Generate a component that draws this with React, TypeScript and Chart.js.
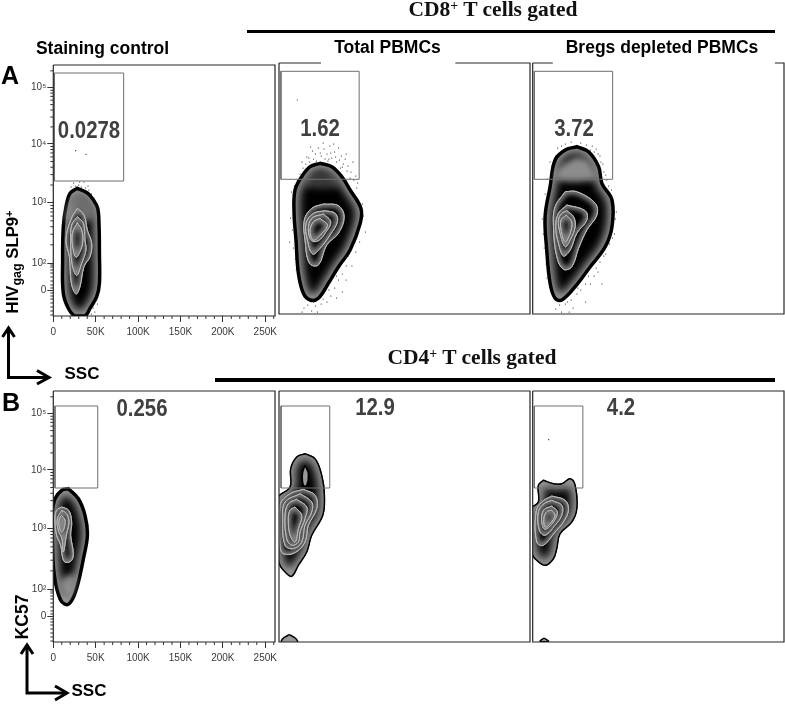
import React, { useEffect, useRef } from "react";
import { Chart, registerables } from "chart.js";

Chart.register(...registerables);

type Pt = [number, number];

// X is side scatter in thousands, Y is the biexponential display channel (0-251).
const xTicks = [0, 50, 100, 150, 200, 250];
const xMinorTicks = [10, 20, 30, 40, 60, 70, 80, 90, 110, 120, 130, 140, 160, 170, 180, 190, 210, 220, 230, 240, 260];
const yTicks = [25.5, 53, 113.3, 172.2, 228.3];
const yTickLabels = ["0", "10²", "10³", "10⁴", "10⁵"];
const yDecades = [53, 113.3, 172.2, 228.3];
const yLinearMinor = [1, 5, 9, 13, 17, 20, 23, 28, 31, 35, 39, 43, 46, 49, 51];

const a1Contours: Pt[][] = [
  [[28.4,127.7],[40.2,123],[47.3,116],[52.4,107.7],[54,89.3],[54.4,62.7],[54.4,32.7],[51.2,19.3],[43.3,7.7],[37.4,0],[25.6,0],[17.7,7.7],[11.8,22.7],[11,56],[11.8,89.3],[15,109.3],[19.7,122.7]],
  [[28.4,107.7],[36.2,101],[40.2,86],[45.3,72.7],[43.3,59.3],[36.2,49.3],[31.5,29.3],[26.8,22],[21.3,32.7],[18.9,59.3],[15,76],[20.5,96]],
  [[28.4,99.3],[35.5,92.7],[37.4,76],[38.6,66],[33.5,52.7],[27.6,40.7],[22,52.7],[20.5,76],[21.7,91]],
  [[28.4,93.3],[33.5,86],[34.7,74.3],[31.5,64.3],[26.8,58.7],[23.2,67.7],[22.5,82.7]],
];
const a2Contours: Pt[][] = [
  [[42.8,150.7],[55,147.3],[65.4,137.3],[74.1,124],[85.3,105.7],[84.6,90.7],[74.1,64],[62,47.3],[51.5,30.7],[41,15.7],[32.4,14],[25.4,20.7],[20.2,40.7],[17.7,74],[15.7,100.7],[16.7,124],[23.7,137.3],[32.4,147.3]],
  [[46.3,110],[61.9,108.3],[67.9,97.3],[61.9,80.7],[49.7,69],[41,49],[31.7,50.7],[27.1,74],[26.4,94],[34.1,105.7]],
  [[48,103.3],[58.5,100.7],[60.9,92.3],[53.2,79],[42.8,65.7],[35.1,60],[29.6,74],[28.2,90.7],[35.9,100.7]],
  [[46.3,100],[53.9,92.3],[48,80.7],[41,73.3],[34.1,73.3],[30.6,84],[34.1,95.7]],
  [[42.8,95.7],[50.4,88.7],[42.8,78.7],[35.9,74],[32.4,83.3],[35.9,92.3]],
];
const a3Contours: Pt[][] = [
  [[45.9,167.3],[58.1,162.3],[68.6,147.3],[72,130.7],[82.5,114],[82.5,87.3],[75.5,67.3],[59.9,47.3],[44.2,27.3],[30.3,14],[23.3,15.7],[18.1,30.7],[14.6,64],[12.9,97.3],[18.1,127.3],[23.3,154],[33.8,164]],
  [[33.8,122.3],[45.9,122.3],[65,110.7],[66.8,99],[56.4,84],[47.7,65.7],[40.7,47.3],[32,44.7],[25,57.3],[21.6,87.3],[23.3,107.3]],
  [[35.5,109],[54.6,103.3],[56.4,94],[45.9,80.7],[39,64],[32,58],[26.8,70.7],[24,87.3],[26.8,100.7]],
  [[35.5,103.3],[42.5,97.3],[44.2,87.3],[39,74],[33.8,67.3],[28.5,80.7],[26.8,94],[30.3,100.7]],
  [[34.8,99],[40.7,92.3],[39,80.7],[33.8,72.3],[29.6,84],[29.6,94]],
];
const b1Contours: Pt[][] = [
  [[17.7,153.3],[29.6,143.3],[37.4,126.7],[40.2,106.7],[35.5,83.3],[29.6,60],[22.9,43.3],[15.8,37.3],[7.9,43.3],[1.2,66.7],[-1,100],[-1,130],[2,143.3],[9.9,151.7]],
  [[9.9,135],[18.1,131.7],[21.7,120],[20.5,106.7],[23.6,88.3],[20.5,80.7],[12.6,80.7],[8.7,96.7],[3.9,106.7],[2,123],[3.9,131.7]],
  [[9.9,131.7],[15.8,128.3],[18.5,120],[15.8,108.3],[11.8,90],[10.2,103],[5.9,111.7],[4.7,123]],
  [[9.9,126.7],[13.8,121.7],[12.6,113.3],[9.9,110],[7.1,115],[7.1,123.3]],
];
const b2Contours: Pt[][] = [
  [[27.1,188.3],[37.6,183.3],[44.5,166.7],[47.3,146.7],[45.6,126.7],[34.1,106.7],[28.9,90],[20.2,76.7],[13.2,65.7],[6.3,70],[1,76.7],[-1.7,90],[-1.7,143.3],[11.5,155],[12.2,173.3],[18.4,185]],
  [[25.4,152.7],[37.6,146.7],[39.3,133.3],[30.6,116.7],[27.1,100],[16.7,89.3],[4.5,88.3],[1,96.7],[1,136.7],[11.5,148.3]],
  [[22,148.3],[34.1,140],[34.1,130],[27.1,116.7],[23.7,100],[15,93.3],[6.3,96.7],[3.8,123.3],[6.3,140]],
  [[18.4,142.7],[28.9,135],[27.1,123.3],[22,110],[20.2,100],[13.2,96.7],[8,103.3],[6.3,126.7],[9.7,138.3]],
  [[16.7,135],[23.7,126.7],[20.2,113.3],[16.7,100],[11.5,106.7],[9.7,123.3],[11.5,131.7]],
];
const b3Contours: Pt[][] = [
  [[11.1,161.7],[21.6,158.3],[30.3,158.3],[39,163.3],[44.2,156.7],[45.9,133.3],[40.7,120],[28.5,108.3],[25,93.3],[21.6,83.3],[12.9,76.7],[2.4,83.3],[-1,90],[-1,133.3],[5.9,140],[5.9,156.7]],
  [[19.8,146],[33.8,141.7],[37.2,131.7],[32,120],[23.3,110],[11.1,96.7],[4.2,100],[3.5,130],[9.4,140]],
  [[19.8,141.7],[30.3,136.7],[30.3,126.7],[23.3,116.7],[12.9,106.7],[6.9,111.7],[5.9,130],[11.8,138.3]],
  [[19.8,136],[25.7,130],[21.6,120],[12.9,112.7],[9.4,120],[11.1,131.7]],
  [[19.8,131.7],[23.3,126.7],[18.1,118.3],[12.9,115],[11.8,125],[15.3,130.7]],
];

const a1Cap: Pt[] = [[28,122],[40,116],[47,105],[45,96],[15,96],[19,112]];
const a2Cap: Pt[] = [[42.8,142],[56.7,139],[63.8,127],[25.4,127],[28.9,137]];
const a3Cap: Pt[] = [[45.2,157.3],[56.4,154],[65,140.7],[65,134],[25,134],[28.5,147.3]];
const b1Cap: Pt[] = [[15.8,66.7],[25.6,66.7],[21.7,48],[13.8,46.7],[7.9,60]];

const b2Spots: Pt[][] = [
  [[27.1,176.7],[30.6,168.3],[28.9,156.7],[25.4,156.7],[24.4,168.3]],
  [[10.8,7.3],[17.7,3.3],[19.1,-0.7],[2.8,-0.7],[3.8,3.3]],
];
const b3Spots: Pt[][] = [[[11.8,4],[16.4,0.7],[7.7,0.7]]];

const a1Events: Pt[] = [[26.4,165.3],[38.6,161.7],[24,133],[26,130],[30,131],[33,129],[36,134],[38,128],[42,126],[45,122],[48,118],[50,112],[47,8],[49,4],[45,2],[52,12],[27,127],[31,134],[41,130],[21,129]];
const a2Events: Pt[] = [[19.1,214],[31,156],[35,163],[38,160],[41,166],[44,158],[47,165],[50,160],[53,168],[55,156],[58,162],[60,152],[62,166],[65,158],[67,150],[70,160],[72,148],[75,142],[77,152],[80,138],[28,150],[33,167],[46,171],[52,155],[57,170],[64,146],[69,155],[25,146],[74,136],[22,140],[82,131],[13,122],[15,110],[12,96],[14,84],[11,72],[15,66],[17,55],[18,44],[88,98],[90,82],[84,72],[80,62],[72,58],[76,48],[66,40],[70,34],[62,34],[58,26],[66,22],[54,18],[60,16],[50,12],[44,10],[38,8],[30,9],[26,6],[34,3],[24,2],[40,2],[36,155],[39,153],[43,161],[48,155],[51,153],[54,161],[59,157],[63,154],[66,147],[71,143],[78,134],[81,126],[29,157],[32,152],[24,152],[19,134],[16,128],[87,110],[79,72],[70,48],[60,38],[52,24],[46,15],[36,12]];
const a3Events: Pt[] = [[30,168],[34,170],[40,172],[50,171],[56,169],[62,168],[66,165],[70,158],[73,150],[74,142],[68,160],[28,160],[24,158],[20,148],[77,134],[79,128],[82,124],[84,110],[86,95],[85,80],[80,70],[76,60],[70,52],[66,46],[64,38],[72,30],[58,38],[55,30],[50,24],[46,20],[40,14],[34,10],[28,9],[24,5],[30,2],[38,2],[10,95],[11,80],[12,66],[14,50],[15,36],[16,110],[13,120],[15,135],[60,30],[42,6],[55,12],[64,162],[60,164],[71,152],[76,139],[81,118],[87,102],[83,76],[74,58],[68,42],[52,36],[47,26],[36,12],[21,138],[18,152],[26,166]];
const b3Events: Pt[] = [[16.7,202.3]];

const a1Gate = [1.2, 83, 135, 243];
const a2Gate = [2, 83.5, 134.7, 242.7];
const a3Gate = [1.7, 83.2, 134.7, 242.7];
const b1Gate = [2, 52.4, 154, 236];
const b2Gate = [2.1, 52.9, 154, 236];
const b3Gate = [1.7, 52.2, 154, 236];

const close = (p: Pt[]) => [...p, p[0]].map(([x, y]) => ({ x, y }));

const shadePlugin = {
  id: "shade",
  afterDatasetDraw(chart: any, args: any) {
    const ds = chart.data.datasets[args.index];
    if (!ds.glow && !ds.soft) return;
    const el = args.meta.dataset;
    const ctx = chart.ctx;
    const a = chart.chartArea;
    const trace = () => {
      ctx.beginPath();
      el.path(ctx);
      ctx.closePath();
    };
    ctx.save();
    ctx.beginPath();
    ctx.rect(a.left, a.top, a.right - a.left, a.bottom - a.top);
    ctx.clip();
    if (ds.soft) {
      ctx.filter = "blur(3px)";
      ctx.fillStyle = ds.soft;
      trace();
      ctx.fill();
      ctx.restore();
      return;
    }
    ctx.save();
    trace();
    ctx.clip();
    ctx.filter = `blur(${ds.glow / 2.2}px)`;
    ctx.strokeStyle = ds.glowColor;
    ctx.lineWidth = ds.glow;
    trace();
    ctx.stroke();
    ctx.restore();
    ctx.strokeStyle = ds.rimColor;
    ctx.lineWidth = ds.rimWidth;
    trace();
    ctx.stroke();
    ctx.restore();
  },
};

const framePlugin = {
  id: "frame",
  afterDraw(chart: any) {
    const { ctx, chartArea: a, scales } = chart;
    const opt = chart.options.plugins.frame;
    ctx.save();
    ctx.strokeStyle = "#262626";
    ctx.lineWidth = 1.2;
    ctx.beginPath();
    ctx.moveTo(a.left, a.top);
    if (opt.gap) {
      ctx.lineTo(scales.x.getPixelForValue(opt.gap[0]), a.top);
      ctx.moveTo(scales.x.getPixelForValue(opt.gap[1]), a.top);
    }
    ctx.lineTo(a.right, a.top);
    ctx.lineTo(a.right, a.bottom);
    ctx.lineTo(a.left, a.bottom);
    ctx.lineTo(a.left, a.top);
    ctx.stroke();
    if (opt.axes) {
      ctx.strokeStyle = "#333";
      ctx.lineWidth = 1;
      ctx.beginPath();
      xMinorTicks.forEach((v) => {
        const p = scales.x.getPixelForValue(v);
        ctx.moveTo(p, a.bottom);
        ctx.lineTo(p, a.bottom + 3);
      });
      const minors = [...yLinearMinor];
      yDecades.forEach((c, i) => {
        const span = i < yDecades.length - 1 ? yDecades[i + 1] - c : 56;
        [2, 3, 4, 5, 6, 7, 8, 9].forEach((m) => minors.push(c + Math.log10(m) * span));
      });
      minors.forEach((v) => {
        if (v > 251) return;
        const p = scales.y.getPixelForValue(v);
        ctx.moveTo(a.left, p);
        ctx.lineTo(a.left - 3, p);
      });
      ctx.stroke();
    }
    ctx.restore();
  },
};

type PanelCfg = {
  left: number; top: number; width: number; height: number; axes?: boolean;
  contours: Pt[][]; gate: number[]; events?: Pt[]; spots?: Pt[][]; cap?: [Pt[], string];
  rim?: number; gap?: number[];
};

const panels: PanelCfg[] = [
  { left: 53.3, top: 65, width: 221, height: 251, axes: true, contours: a1Contours, gate: a1Gate, events: a1Events, cap: [a1Cap, "rgba(165,165,165,0.65)"] },
  { left: 279, top: 63.3, width: 251, height: 250.7, contours: a2Contours, gate: a2Gate, events: a2Events, cap: [a2Cap, "rgba(125,125,125,0.45)"], gap: [43.8, 183.7] },
  { left: 532.7, top: 63.3, width: 250.7, height: 250.7, contours: a3Contours, gate: a3Gate, events: a3Events, cap: [a3Cap, "rgba(175,175,175,0.8)"], gap: [20.9, 252] },
  { left: 53.3, top: 390.7, width: 221, height: 251, axes: true, contours: b1Contours, gate: b1Gate, cap: [b1Cap, "rgba(175,175,175,0.75)"] },
  { left: 279, top: 390.7, width: 251, height: 251, contours: b2Contours, gate: b2Gate, spots: b2Spots, rim: 1.5 },
  { left: 532.7, top: 390.7, width: 250.7, height: 251, contours: b3Contours, gate: b3Gate, spots: b3Spots, events: b3Events, rim: 1.5 },
];

function buildDatasets(p: PanelCfg) {
  const out: any[] = [];
  const base = { type: "scatter", showLine: true, pointRadius: 0 };
  p.contours.forEach((c, i) => {
    out.push({
      ...base,
      data: close(c),
      tension: 0.38,
      fill: "shape",
      backgroundColor: "#000",
      borderColor: i === 0 ? "#000" : "#bbb",
      borderWidth: 1,
      glow: i === 0 ? 10 : 6,
      glowColor: i === 0 ? "#b0b0b0" : "#8a8a8a",
      rimColor: i === 0 ? "#000" : "#bcbcbc",
      rimWidth: i === 0 ? p.rim ?? 3.5 : 1,
      order: 100 - i * 2,
    });
  });
  if (p.cap) {
    out.push({ ...base, data: close(p.cap[0]), tension: 0.3, borderWidth: 0, borderColor: "transparent", soft: p.cap[1], order: 99 });
  }
  (p.spots ?? []).forEach((s) => {
    out.push({ ...base, data: close(s), tension: 0.38, fill: "shape", backgroundColor: "#9a9a9a", borderColor: "#000", borderWidth: 1.5, order: 50 });
  });
  if (p.events) {
    out.push({ type: "scatter", showLine: false, data: p.events.map(([x, y]) => ({ x, y })), pointRadius: 0.6, pointBackgroundColor: "#111", pointBorderWidth: 0, order: 120 });
  }
  const [x0, x1, y0, y1] = p.gate;
  out.push({
    ...base,
    data: close([[x0, y0], [x1, y0], [x1, y1], [x0, y1]]),
    tension: 0,
    fill: false,
    borderColor: "#6e6e6e",
    borderWidth: 1,
    order: 1,
  });
  return out;
}

function Panel({ cfg }: { cfg: PanelCfg }) {
  const ref = useRef<HTMLCanvasElement>(null);
  const padTop = 2;
  const padRight = 6;
  const left = cfg.axes ? 0 : Math.floor(cfg.left) - 3;
  const axisW = cfg.left - left;
  const axisH = cfg.axes ? 36 : 3;
  const top = cfg.top - padTop;
  const w = axisW + cfg.width + padRight;
  const h = padTop + cfg.height + axisH;

  useEffect(() => {
    const tickFont = { family: "'Liberation Sans', Arial, sans-serif", size: 10 };
    const noPad = (s: any) => { s.paddingTop = 0; s.paddingBottom = 0; s.paddingLeft = 0; s.paddingRight = 0; };
    const chart = new Chart(ref.current!, {
      type: "scatter",
      data: { datasets: buildDatasets(cfg) as any },
      plugins: [shadePlugin, framePlugin],
      options: {
        animation: false,
        responsive: false,
        events: [],
        layout: {
          autoPadding: false,
          padding: cfg.axes
            ? { left: 0, top: padTop, right: padRight, bottom: 0 }
            : { left: axisW, top: padTop, right: padRight, bottom: axisH },
        },
        plugins: {
          legend: { display: false },
          tooltip: { enabled: false },
          frame: { axes: !!cfg.axes, gap: cfg.gap },
        } as any,
        scales: {
          x: {
            type: "linear",
            display: !!cfg.axes,
            min: 0,
            max: 261.5,
            border: { display: false },
            grid: { drawOnChartArea: false, drawTicks: true, tickLength: 6, tickColor: "#333" },
            afterBuildTicks: (s: any) => { s.ticks = xTicks.map((value) => ({ value })); },
            afterFit: (s: any) => { noPad(s); if (cfg.axes) s.height = axisH; },
            ticks: {
              autoSkip: false, maxRotation: 0, padding: 4, color: "#3a3a3a", font: tickFont,
              callback: (v: any) => (v === 0 ? "0" : `${v}K`),
            },
          },
          y: {
            type: "linear",
            display: !!cfg.axes,
            min: 0,
            max: 251,
            border: { display: false },
            grid: { drawOnChartArea: false, drawTicks: true, tickLength: 6, tickColor: "#333" },
            afterBuildTicks: (s: any) => { s.ticks = yTicks.map((value) => ({ value })); },
            afterFit: (s: any) => { noPad(s); if (cfg.axes) s.width = axisW; },
            ticks: {
              autoSkip: false, padding: 1, color: "#3a3a3a", font: tickFont,
              callback: (v: any) => yTickLabels[yTicks.indexOf(v)] ?? "",
            },
          },
        },
      },
    });
    return () => chart.destroy();
  }, []);

  return (
    <canvas
      ref={ref}
      width={Math.ceil(w)}
      height={Math.ceil(h)}
      style={{ position: "absolute", left, top, width: Math.ceil(w), height: Math.ceil(h) }}
    />
  );
}

const sans = "'Liberation Sans', Arial, sans-serif";
const serif = "'Liberation Serif', 'Times New Roman', serif";

type Lbl = { t: React.ReactNode; cx: number; cy: number; size: number; font?: string; color?: string; rotate?: boolean; squeeze?: number };

const supStyle: React.CSSProperties = { fontSize: "0.65em", verticalAlign: "0.45em", lineHeight: 0 };
const subStyle: React.CSSProperties = { fontSize: "0.75em", verticalAlign: "-0.3em", lineHeight: 0 };
const valueColor = "#404040";

const labels: Lbl[] = [
  { t: <>CD8<span style={supStyle}>+</span> T cells gated</>, cx: 493, cy: 10, size: 21.5, font: serif, color: "#111" },
  { t: <>CD4<span style={supStyle}>+</span> T cells gated</>, cx: 472, cy: 358, size: 21.5, font: serif, color: "#111" },
  { t: "Staining control", cx: 102.5, cy: 49, size: 17.5 },
  { t: "Total PBMCs", cx: 387.5, cy: 48, size: 17.5 },
  { t: "Bregs depleted PBMCs", cx: 662, cy: 48, size: 17.5 },
  { t: "A", cx: 10, cy: 75, size: 25 },
  { t: "B", cx: 11, cy: 402, size: 25 },
  { t: "SSC", cx: 82, cy: 373, size: 17 },
  { t: "SSC", cx: 89, cy: 690, size: 17 },
  { t: <>HIV<span style={subStyle}>gag</span> SLP9<span style={supStyle}>+</span></>, cx: 13, cy: 262, size: 16.7, rotate: true },
  { t: "KC57", cx: 23, cy: 617, size: 17.5, rotate: true },
  { t: "0.0278", cx: 88.5, cy: 130, size: 24, color: valueColor, squeeze: 0.85 },
  { t: "1.62", cx: 320, cy: 128, size: 24, color: valueColor, squeeze: 0.85 },
  { t: "3.72", cx: 573.5, cy: 128, size: 24, color: valueColor, squeeze: 0.85 },
  { t: "0.256", cx: 142, cy: 408, size: 24, color: valueColor, squeeze: 0.85 },
  { t: "12.9", cx: 375, cy: 407, size: 24, color: valueColor, squeeze: 0.85 },
  { t: "4.2", cx: 621, cy: 407, size: 24, color: valueColor, squeeze: 0.85 },
];

export default function App() {
  return (
    <div style={{ position: "absolute", left: 0, top: 0, width: 785, height: 706, background: "#fff", overflow: "hidden" }}>
      {panels.map((p, i) => <Panel key={i} cfg={p} />)}
      <div style={{ position: "absolute", left: 247, top: 29.5, width: 528, height: 3.5, background: "#000" }} />
      <div style={{ position: "absolute", left: 215, top: 378, width: 560, height: 3.5, background: "#000" }} />
      <svg width={785} height={706} style={{ position: "absolute", left: 0, top: 0, pointerEvents: "none" }} fill="none" stroke="#000" strokeWidth={3}>
        <path d="M8.5 329V377.5H48" />
        <path d="M2.5 337L8.5 328L14.5 337" />
        <path d="M37 370.5L49 377.5L37 384" />
        <path d="M27 646V693H66" />
        <path d="M21 654L27 645L33 654" />
        <path d="M55 686L67 693L55 700" />
      </svg>
      {labels.map((l, i) => (
        <div
          key={i}
          style={{
            position: "absolute",
            left: l.cx,
            top: l.cy,
            transform: `translate(-50%,-50%)${l.rotate ? " rotate(-90deg)" : ""}${l.squeeze ? ` scaleX(${l.squeeze})` : ""}`,
            whiteSpace: "nowrap",
            fontFamily: l.font ?? sans,
            fontWeight: 700,
            fontSize: l.size,
            lineHeight: 1,
            color: l.color ?? "#000",
          }}
        >
          {l.t}
        </div>
      ))}
    </div>
  );
}
